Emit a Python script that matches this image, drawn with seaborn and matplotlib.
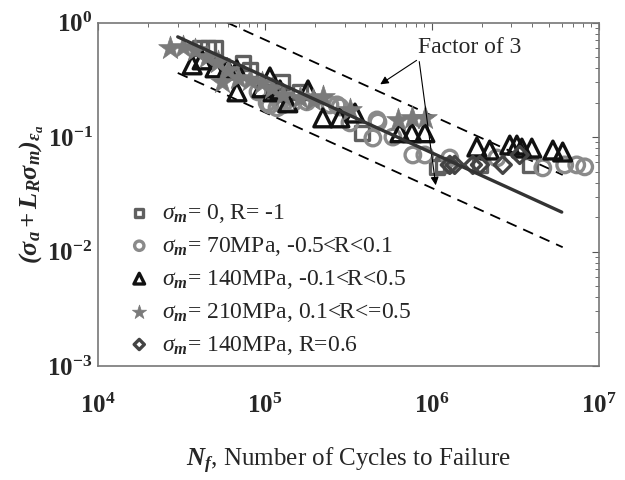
import numpy as np
import pandas as pd
import matplotlib
matplotlib.use("Agg")
import matplotlib.pyplot as plt
import seaborn as sns

# ---------------------------------------------------------------
# data (Nf, strain-energy parameter)
# ---------------------------------------------------------------
sq_n = [4.08e4, 4.56e4, 5.02e4, 7.38e4, 8.13e4, 1.26e5, 1.62e5, 3.81e5,
        1.07e6, 1.16e6, 1.94e6, 3.86e6]
sq_y = [0.601, 0.601, 0.601, 0.444, 0.386, 0.303, 0.248, 0.109,
        0.0549, 0.0571, 0.0571, 0.0571]

ci_n = [9.08e4, 1.03e5, 1.07e5, 1.18e5, 1.23e5, 1.28e5, 1.47e5, 1.78e5,
        2.45e5, 2.70e5, 2.81e5, 3.23e5, 4.43e5, 4.69e5, 4.75e5, 5.84e5,
        7.69e5, 9.08e5, 1.28e6, 2.45e6, 4.62e6, 6.25e6, 7.38e6, 8.24e6]
ci_y = [0.248, 0.199, 0.191, 0.180, 0.199, 0.191, 0.199, 0.203,
        0.191, 0.191, 0.183, 0.133, 0.098, 0.141, 0.135, 0.100,
        0.0697, 0.0697, 0.0656, 0.0656, 0.0538, 0.0571, 0.0571, 0.0549]

tr_n = [3.66e4, 4.20e4, 5.02e4, 5.92e4, 6.79e4, 6.79e4, 9.59e4, 1.07e5,
        1.12e5, 1.23e5, 1.37e5, 1.81e5, 2.22e5, 2.81e5, 3.46e5, 6.43e5,
        7.59e5, 9.08e5, 1.86e6, 2.22e6, 2.93e6, 3.23e6, 3.46e6, 3.97e6,
        5.31e6, 6.08e6]
tr_y = [0.427, 0.472, 0.402, 0.402, 0.386, 0.248, 0.269, 0.335,
        0.248, 0.258, 0.199, 0.258, 0.147, 0.147, 0.162, 0.109,
        0.109, 0.109, 0.0818, 0.0770, 0.0851, 0.0851, 0.0801, 0.0801,
        0.0770, 0.0740]

st_n = [2.70e4, 3.23e4, 3.81e4, 4.50e4, 5.24e4, 5.53e4, 6.0e4, 6.89e4,
        8.13e4, 9.59e4, 1.10e5, 1.28e5, 1.62e5, 1.94e5, 2.22e5, 3.23e5,
        6.26e5, 7.59e5, 9.08e5]
st_y = [0.601, 0.613, 0.577, 0.501, 0.453, 0.303, 0.386, 0.329,
        0.316, 0.297, 0.269, 0.233, 0.220, 0.211, 0.224, 0.173,
        0.141, 0.147, 0.147]

di_n = [1.28e6, 1.37e6, 1.76e6, 1.94e6, 2.66e6, 3.36e6]
di_y = [0.0571, 0.0571, 0.0571, 0.0571, 0.0571, 0.0697]

# fit line and factor-of-3 band (end points)
fit_n = [3.0e4, 6.0e6]
fit_y = [0.75, 0.0221]
up_n = [5.92e4, 6.08e6]
up_y = [1.0, 0.0467]
lo_n = [3.0e4, 6.08e6]
lo_y = [0.363, 0.0109]

labels = [
    r"$\sigma_{\mathbfit{m}}$= 0, R= -1",
    r"$\sigma_{\mathbfit{m}}$= 70MPa, -0.5<R<0.1",
    r"$\sigma_{\mathbfit{m}}$= 140MPa, -0.1<R<0.5",
    r"$\sigma_{\mathbfit{m}}$= 210MPa, 0.1<R<=0.5",
    r"$\sigma_{\mathbfit{m}}$= 140MPa, R=0.6",
]
x_ticks = [1e4, 1e5, 1e6, 1e7]
x_ticklabels = [r"$\mathbf{10^{4}}$", r"$\mathbf{10^{5}}$",
                r"$\mathbf{10^{6}}$", r"$\mathbf{10^{7}}$"]
y_ticks = [1e-3, 1e-2, 1e-1, 1e0]
y_ticklabels = [r"$\mathbf{10^{-3}}$", r"$\mathbf{10^{-2}}$",
                r"$\mathbf{10^{-1}}$", r"$\mathbf{10^{0}}$"]

# ---------------------------------------------------------------
# style
# ---------------------------------------------------------------
sns.set_style("white")
plt.rcParams["font.family"] = ["Liberation Serif", "DejaVu Serif"]
plt.rcParams["mathtext.fontset"] = "custom"
plt.rcParams["mathtext.rm"] = "Liberation Serif"
plt.rcParams["mathtext.it"] = "Liberation Serif:italic"
plt.rcParams["mathtext.bf"] = "Liberation Serif:bold"
plt.rcParams["mathtext.bfit"] = "Liberation Serif:italic:bold"

fig = plt.figure(figsize=(6.25, 4.8), dpi=100)
ax = fig.add_axes([0.157, 0.2375, 0.801, 0.7155])
ax.set_xscale("log")
ax.set_yscale("log")

series = [
    (sq_n, sq_y, "s", 100, "#606060", False, labels[0]),
    (ci_n, ci_y, "o", 125, "#8a8a8a", False, labels[1]),
    (tr_n, tr_y, "^", 165, "#111111", False, labels[2]),
    (st_n, st_y, "*", 320, "#7a7a7a", True, labels[3]),
    (di_n, di_y, "D", 75, "#444444", False, labels[4]),
]
for xs, ys, mk, size, col, filled, lab in series:
    df = pd.DataFrame({"n": xs, "y": ys})
    sns.scatterplot(data=df, x="n", y="y", ax=ax, marker=mk, s=size,
                    color=col, facecolor=col if filled else "none",
                    edgecolor=col, linewidth=0.5 if filled else 2.4,
                    label=lab, zorder=3)

sns.lineplot(x=fit_n, y=fit_y, ax=ax, color="#333333", lw=2.4, zorder=4)
sns.lineplot(x=up_n, y=up_y, ax=ax, color="black", lw=1.3, zorder=2)
sns.lineplot(x=lo_n, y=lo_y, ax=ax, color="black", lw=1.3, zorder=2)
for ln in ax.lines[1:]:
    ln.set_linestyle((0, (6, 4)))

ax.text(1.69e6, 0.601, "Factor of 3", fontsize=17, ha="center", va="center")
for tip in [(4.75e5, 0.28), (1.06e6, 0.0359)]:
    ax.annotate("", xy=tip, xytext=(8.36e5, 0.482),
                arrowprops=dict(arrowstyle="-|>", color="black", lw=0.8,
                                mutation_scale=12))

ax.set_xlim(1e4, 1e7)
ax.set_ylim(1e-3, 1e0)
ax.set_xticks(x_ticks)
ax.set_xticklabels(x_ticklabels, fontsize=18)
ax.set_yticks(y_ticks)
ax.set_yticklabels(y_ticklabels, fontsize=18)
ax.tick_params(which="both", direction="in", top=True, right=True,
               color="#555555")
ax.tick_params(which="major", length=5, width=0.8)
ax.tick_params(which="minor", length=3, width=0.6)
ax.tick_params(axis="x", pad=20)
ax.tick_params(axis="y", pad=4)
for sp in ax.spines.values():
    sp.set_color("#777777")
    sp.set_linewidth(1.2)

ax.set_xlabel(r"$\mathbfit{N_f}$, Number of Cycles to Failure", fontsize=18,
              labelpad=20)
ax.set_ylabel(r"$\mathbfit{(\sigma_a+L_R\sigma_m)_{\epsilon_a}}$",
              fontsize=19, labelpad=1)

ax.legend(loc="upper left", bbox_to_anchor=(0.035, 0.505), frameon=False,
          fontsize=17, markerscale=0.6, handlelength=1.2, handletextpad=0.35,
          labelspacing=0.42, borderaxespad=0)

fig.savefig("out.png", dpi=100)
